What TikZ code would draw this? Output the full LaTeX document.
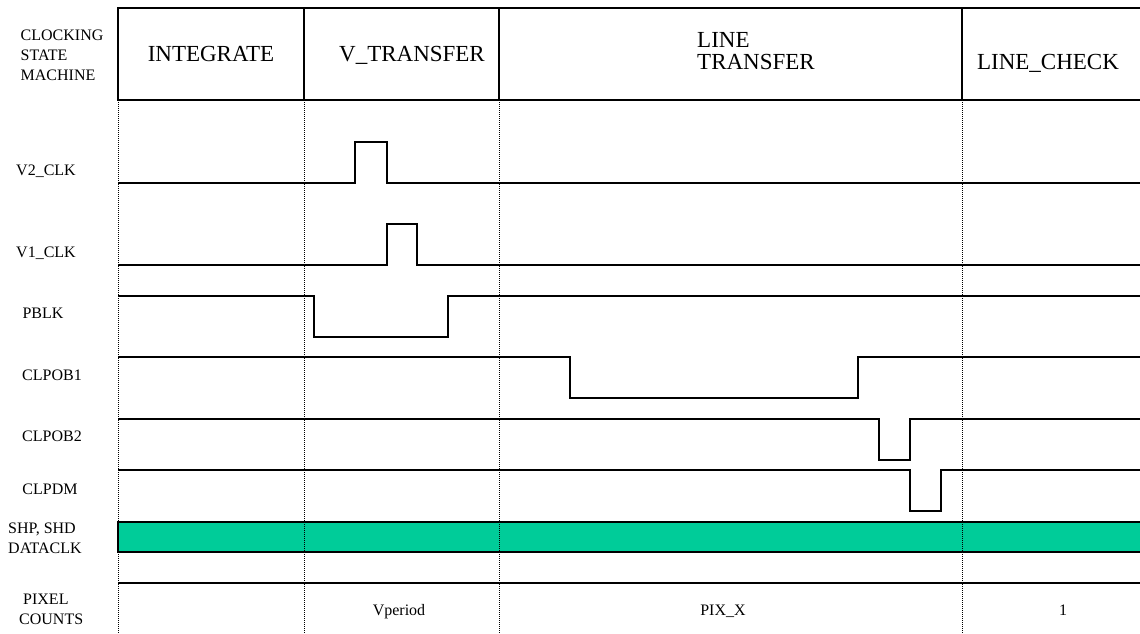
\documentclass[tikz,border=0pt]{standalone}
\usepackage{fontspec}
\setmainfont{Liberation Serif}
\usetikzlibrary{positioning}
\definecolor{seagreen}{RGB}{0,204,153}

\begin{document}
\begin{tikzpicture}[x=1pt, y=-1pt,
      every node/.style={font=\fontsize{16}{20}\selectfont, inner sep=0pt},
      state/.style={font=\fontsize{23}{22}\selectfont, anchor=base},
      lbl/.style={anchor=base},
      wave/.style={draw=black, line width=1.5pt},
      frame/.style={draw=black, line width=2.6pt},
      guide/.style={draw=black, line width=0.9pt, dash pattern=on 1pt off 1pt}]
    \useasboundingbox (0,0) rectangle (1140,633);

    \fill[seagreen] (118,522) rectangle (1140,552);
    \draw[wave] (1140,522) -- (118,522) -- (118,552) -- (1140,552);
    \foreach \x in {118,304,499,962} \draw[guide] (\x,100) -- (\x,633);

    \draw[wave] (118,183) -- (355,183) -- (355,142) -- (387,142) -- (387,183) -- (1140,183);
    \draw[wave] (118,265) -- (387,265) -- (387,224) -- (417,224) -- (417,265) -- (1140,265);
    \draw[wave] (118,296) -- (314,296) -- (314,337) -- (448,337) -- (448,296) -- (1140,296);
    \draw[wave] (118,357) -- (570,357) -- (570,398) -- (858,398) -- (858,357) -- (1140,357);
    \draw[wave] (118,419) -- (879,419) -- (879,460) -- (910,460) -- (910,419) -- (1140,419);
    \draw[wave] (118,470) -- (910,470) -- (910,511) -- (941,511) -- (941,470) -- (1140,470);
    \draw[wave] (118,583) -- (1140,583);

    \draw[frame] (1140,8) -- (118,8) -- (118,100) -- (1140,100);
    \foreach \x in {304,499,962} \draw[frame] (\x,8) -- (\x,100);

    \node[state] (integ) at (211,61.5) {INTEGRATE};
    \node[state] (vtr) at (412,61.5) {V\_TRANSFER};
    \node[state, anchor=north west, align=left] (ltr) at (697,32) {LINE\\TRANSFER};
    \node[state] (lchk) at (1048,69.5) {LINE\_CHECK};

    \node[anchor=north west, align=left] (csm) at (20.5,29.5) {CLOCKING\\STATE\\MACHINE};
    \node[lbl] (v2) at (46,175.5) {V2\_CLK};
    \node[lbl] (v1) at (46,257) {V1\_CLK};
    \node[lbl] (pblk) at (43,318.5) {PBLK};
    \node[lbl] (ob1) at (52,380.5) {CLPOB1};
    \node[lbl] (ob2) at (52,441.5) {CLPOB2};
    \node[lbl] (dm) at (50,494.5) {CLPDM};
    \node[anchor=north west, align=left] (shp) at (8,522.5) {SHP, SHD\\DATACLK};
    \node[anchor=north west, align=left] (pix) at (19,594) {\hspace{4pt}PIXEL\\COUNTS};

    \node[lbl] (vper) at (399,615) {Vperiod};
    \node[lbl] (pixx) at (723,615) {PIX\_X};
    \node[lbl] (one) at (1063,615) {1};
  \end{tikzpicture}
\end{document}
